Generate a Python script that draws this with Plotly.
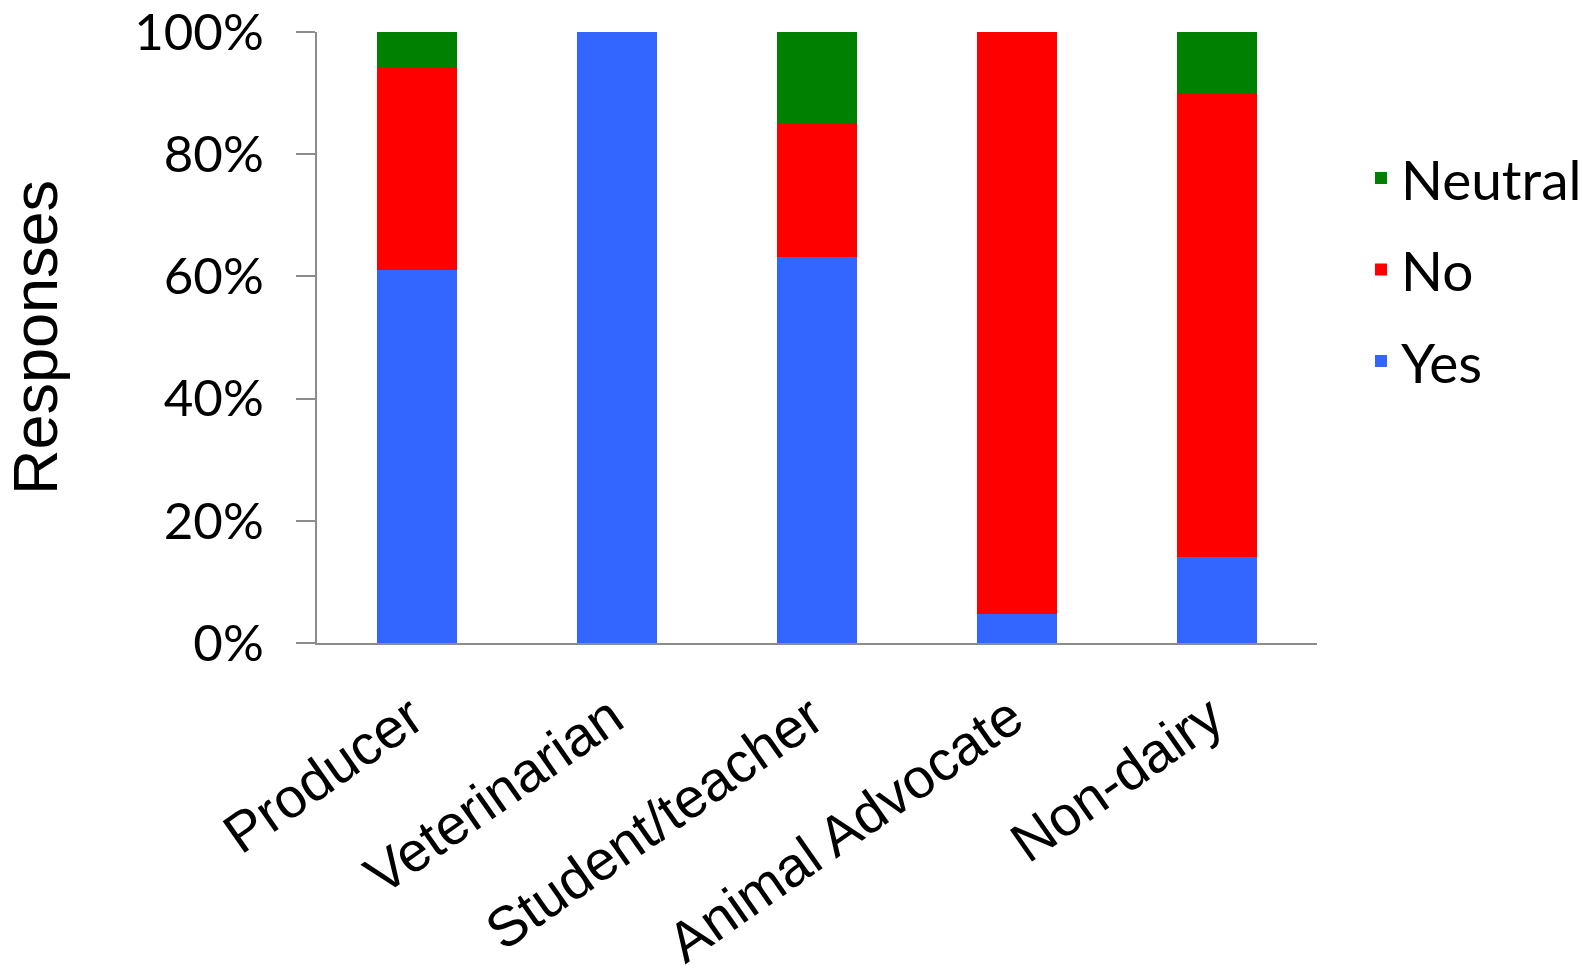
import plotly.graph_objects as go

categories = ["Producer", "Veterinarian", "Student/teacher", "Animal Advocate", "Non-dairy"]
yes_vals = [0.611, 1.000, 0.631, 0.047, 0.140]
no_vals = [0.332, 0.000, 0.220, 0.953, 0.759]
neutral_vals = [0.057, 0.000, 0.149, 0.000, 0.101]
y_ticks = [0, 0.2, 0.4, 0.6, 0.8, 1.0]
y_tick_labels = ["0%", "20%", "40%", "60%", "80%", "100%"]

colors = {"Yes": "#3366FF", "No": "#FF0000", "Neutral": "#008000"}
ranks = {"Neutral": 1, "No": 2, "Yes": 3}

fig = go.Figure()
for name, vals in [("Yes", yes_vals), ("No", no_vals), ("Neutral", neutral_vals)]:
    fig.add_trace(go.Bar(
        x=categories, y=vals, name=name,
        marker=dict(color=colors[name], line=dict(width=0)),
        legendgroup=name,
        legendrank=ranks[name],
    ))

fig.update_layout(
    barmode="stack",
    bargap=0.6,
    width=1590, height=974,
    margin=dict(l=317, r=273, t=32, b=331, autoexpand=False),
    plot_bgcolor="white",
    paper_bgcolor="white",
    showlegend=True,
    legend=dict(
        x=1.044, xanchor="left", y=0.83, yanchor="top",
        traceorder="grouped",
        tracegroupgap=17,
        font=dict(family="Lato, Open Sans, sans-serif", size=55, color="black"),
        bgcolor="rgba(0,0,0,0)",
    ),
    xaxis=dict(
        automargin=False,
        showline=True, linecolor="#8C8C8C", linewidth=2,
        showgrid=False, ticks="",
        tickangle=-35,
        tickfont=dict(family="Liberation Sans, Arial, sans-serif", size=56, color="black"),
        ticklabelstandoff=18,
        ticklabelshift=-6,
        ticklabeloverflow="allow",
    ),
    yaxis=dict(
        automargin=False,
        range=[0, 1],
        tickvals=y_ticks, ticktext=y_tick_labels,
        showline=True, linecolor="#8C8C8C", linewidth=2,
        showgrid=False, ticks="outside", ticklen=19, tickcolor="#8C8C8C", tickwidth=2,
        tickfont=dict(family="Lato, Open Sans, sans-serif", size=51, color="black"),
        ticklabelstandoff=22,
        ticklabeloverflow="allow",
        title=dict(text="Responses", font=dict(family="Liberation Sans, Arial, sans-serif", size=63, color="black"), standoff=80),
        zeroline=False,
    ),
)

fig.write_html(
    "out.html",
    config={"displayModeBar": False},
    post_script="document.body.style.margin='0';document.body.style.overflow='hidden';",
)
